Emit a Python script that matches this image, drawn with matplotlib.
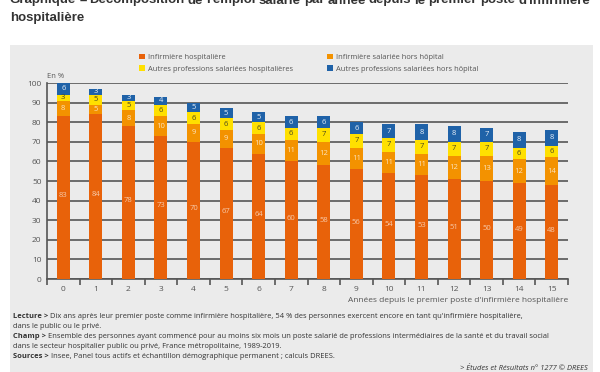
import matplotlib.pyplot as plt
import numpy as np
from matplotlib.patches import Rectangle

# Données (en %)
annees = list(range(16))
inf_hosp = [83, 84, 78, 73, 70, 67, 64, 60, 58, 56, 54, 53, 51, 50, 49, 48]
inf_hors_hop = [8, 5, 8, 10, 9, 9, 10, 11, 12, 11, 11, 11, 12, 13, 12, 14]
autres_hosp = [3, 5, 5, 6, 6, 6, 6, 6, 7, 7, 7, 7, 7, 7, 6, 6]
autres_hors_hop = [6, 3, 3, 4, 5, 5, 5, 6, 6, 6, 7, 8, 8, 7, 8, 8]

series = [
    ("Infirmière hospitalière", inf_hosp, "#E8620A", "#F7C9A8"),
    ("Infirmière salariée hors hôpital", inf_hors_hop, "#F39200", "#FCE3BE"),
    ("Autres professions salariées hospitalières", autres_hosp, "#FFE000", "#4A4A20"),
    ("Autres professions salariées hors hôpital", autres_hors_hop, "#1F62A8", "#E6EEF7"),
]

police = "Open Sans"
gris_fond = "#EBEBEB"

fig = plt.figure(figsize=(6, 3.72), dpi=100)
rend = fig.canvas.get_renderer()

# fond gris du cadre
fond = Rectangle((10 / 600, 0), 583 / 600, 1 - 45 / 372, transform=fig.transFigure,
                 facecolor=gris_fond, edgecolor="none", zorder=-5)
fig.add_artist(fond)

# titre justifié (première ligne coupée en haut)
mots = "Graphique – Décomposition de l'emploi salarié par année depuis le premier poste d'infirmière".split()
objs = [fig.text(0, 1 - 0.5 / 372, m, ha="left", va="center", fontsize=9.5,
                 fontweight="bold", family="Liberation Sans", color="#333333") for m in mots]
largeurs = [o.get_window_extent(renderer=rend).width for o in objs]
espace = (580 - sum(largeurs)) / (len(mots) - 1)
x = 10
for o, w in zip(objs, largeurs):
    o.set_x(x / 600)
    x += w + espace
fig.text(10 / 600, 1 - 18 / 372, "hospitalière", ha="left", va="center",
         fontsize=9.5, fontweight="bold", family="Liberation Sans", color="#333333")

ax = fig.add_axes([47 / 600, 1 - 279 / 372, 521 / 600, 196 / 372])
ax.set_facecolor("none")

bas = np.zeros(len(annees))
barres_leg = []
for nom, vals, coul, coul_txt in series:
    barres = ax.bar(annees, vals, bottom=bas, width=0.4, color=coul, label=nom, zorder=3)
    barres_leg.append(barres)
    for b, v, y0 in zip(barres, vals, bas):
        ax.text(b.get_x() + b.get_width() / 2, y0 + v / 2 + (1 if nom == series[0][0] else 0),
                str(v), ha="center", va="center", fontsize=5.5, color=coul_txt,
                family=police, zorder=4)
    bas = bas + np.array(vals)

ax.set_xlim(-0.5, 15.5)
ax.set_ylim(0, 100)
ax.set_yticks(range(0, 101, 10))
ax.set_xticks(annees)
ax.set_xticks(np.arange(-0.5, 16, 1), minor=True)
ax.tick_params(axis="x", which="major", length=0, pad=5, labelsize=6, labelcolor="#555555")
ax.tick_params(axis="x", which="minor", length=4, width=1.2, color="#555555", direction="out")
ax.tick_params(axis="y", length=0, pad=4, labelsize=6, labelcolor="#555555")
for lab in ax.get_xticklabels() + ax.get_yticklabels():
    lab.set_family(police)
ax.grid(axis="y", color="#555555", linewidth=1.2, zorder=1)
for s in ["top", "right"]:
    ax.spines[s].set_visible(False)
ax.spines["left"].set_color("#555555")
ax.spines["left"].set_linewidth(1.2)
ax.spines["bottom"].set_color("#555555")
ax.spines["bottom"].set_linewidth(1.2)

ax.text(-0.5, 101.5, "En %", fontsize=5.5, color="#555555", family=police,
        ha="left", va="bottom")
fig.text(568 / 600, 1 - 300 / 372, "Années depuis le premier poste d'infirmière hospitalière",
         ha="right", va="center", fontsize=6, color="#555555", family=police)

ordre = [0, 2, 1, 3]
leg = fig.legend([barres_leg[i] for i in ordre], [series[i][0] for i in ordre],
                 loc="upper left", bbox_to_anchor=(132 / 600, 1 - 47 / 372), ncol=2,
                 frameon=False, handlelength=0.8, handleheight=0.8,
                 columnspacing=4.6, handletextpad=0.4, labelspacing=0.55,
                 prop={"family": police, "size": 5.4})
for t in leg.get_texts():
    t.set_color("#555555")

# notes
notes = [
    (317, [("Lecture > ", True), ("Dix ans après leur premier poste comme infirmière hospitalière, 54 % des personnes exercent encore en tant qu'infirmière hospitalière,", False)]),
    (327, [("dans le public ou le privé.", False)]),
    (337, [("Champ > ", True), ("Ensemble des personnes ayant commencé pour au moins six mois un poste salarié de professions intermédiaires de la santé et du travail social", False)]),
    (346, [("dans le secteur hospitalier public ou privé, France métropolitaine, 1989-2019.", False)]),
    (356, [("Sources > ", True), ("Insee, Panel tous actifs et échantillon démographique permanent ; calculs DREES.", False)]),
]
for y, morceaux in notes:
    x = 13 / 600
    for txt, gras in morceaux:
        t = fig.text(x, 1 - y / 372, txt, ha="left", va="center", fontsize=5.4,
                     family=police, color="#333333", fontweight="bold" if gras else "normal")
        bb = t.get_window_extent(renderer=rend)
        x += bb.width / fig.bbox.width

fig.text(588 / 600, 1 - 369 / 372, "> Études et Résultats n° 1277 © DREES", ha="right",
         va="center", fontsize=5.4, style="italic", family=police, color="#333333")

fig.savefig("out.png", dpi=100)
